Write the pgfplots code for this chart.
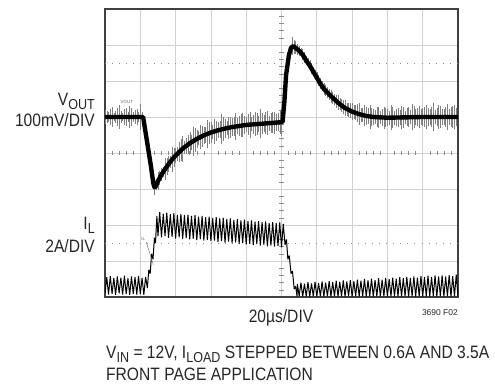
\documentclass[border=0pt]{standalone}
\usepackage{fontspec}
\setmainfont{Liberation Sans}[FakeStretch=0.87]
\newfontfamily\plainsans{Liberation Sans}
\usepackage{pgfplots}
\pgfplotsset{compat=1.18}
\newcommand{\sub}[1]{\raisebox{-0.24em}{\fontsize{14.5}{15}\selectfont #1}}

\begin{document}
\begin{tikzpicture}[x=1bp,y=1bp, lbl/.style={inner sep=0pt, text=black!85, font=\fontsize{18}{20}\selectfont}]
\useasboundingbox (0,0) rectangle (495,383);
\begin{axis}[at={(105bp,86bp)}, anchor=south west, scale only axis,
  width=353bp, height=288bp, xmin=0, xmax=10, ymin=0, ymax=8,
  xtick={1,2,3,4,5,6,7,8,9}, ytick={1,2,3,4,5,6,7},
  xticklabels={}, yticklabels={}, major tick length=0pt,
  grid=major, grid style={black!18, line width=0.7pt},
  axis line style={black!75, line width=1.6pt}]

% dotted cursor lines
\addplot[black!45, line width=0.8pt, dash pattern=on 0.8pt off 6.26pt] coordinates {(0,6.5) (10,6.5)};
\addplot[black!45, line width=0.8pt, dash pattern=on 0.8pt off 6.26pt] coordinates {(0,1.5) (10,1.5)};

% tick marks on the centre lines
\addplot[draw=none, error bars/.cd, y dir=both, y fixed=0.06, error mark=none,
  error bar style={draw=black!45, line width=0.5pt}] coordinates {
(0.2,4)(0.4,4)(0.6,4)(0.8,4)(1.2,4)(1.4,4)(1.6,4)(1.8,4)(2.2,4)(2.4,4)(2.6,4)(2.8,4)
(3.2,4)(3.4,4)(3.6,4)(3.8,4)(4.2,4)(4.4,4)(4.6,4)(4.8,4)(5.2,4)(5.4,4)(5.6,4)(5.8,4)
(6.2,4)(6.4,4)(6.6,4)(6.8,4)(7.2,4)(7.4,4)(7.6,4)(7.8,4)(8.2,4)(8.4,4)(8.6,4)(8.8,4)
(9.2,4)(9.4,4)(9.6,4)(9.8,4)};
\addplot[draw=none, error bars/.cd, x dir=both, x fixed=0.06, error mark=none,
  error bar style={draw=black!45, line width=0.5pt}] coordinates {
(5,0.2)(5,0.4)(5,0.6)(5,0.8)(5,1.2)(5,1.4)(5,1.6)(5,1.8)(5,2.2)(5,2.4)(5,2.6)(5,2.8)
(5,3.2)(5,3.4)(5,3.6)(5,3.8)(5,4.2)(5,4.4)(5,4.6)(5,4.8)(5,5.2)(5,5.4)(5,5.6)(5,5.8)
(5,6.2)(5,6.4)(5,6.6)(5,6.8)(5,7.2)(5,7.4)(5,7.6)(5,7.8)};

% VOUT noise spikes
\addplot[draw=none, error bars/.cd, y dir=both, y explicit, error mark=none,
  error bar style={draw=black!50, line width=0.45pt}] table[x=x, y=y, y error=e] {
x y e
0.0 5.00 0.20
0.1 5.00 0.14
0.2 5.00 0.28
0.3 5.00 0.17
0.4 5.00 0.33
0.5 5.00 0.12
0.6 5.00 0.24
0.7 5.00 0.30
0.8 5.00 0.15
0.9 5.00 0.22
1.0 5.00 0.36
1.1 4.88 0.10
1.2 4.26 0.08
1.3 3.64 0.10
1.4 3.05 0.22
1.5 3.22 0.25
1.6 3.40 0.18
1.7 3.55 0.30
1.8 3.69 0.22
1.9 3.82 0.34
2.0 3.93 0.20
2.1 4.03 0.28
2.2 4.12 0.36
2.3 4.20 0.22
2.4 4.27 0.30
2.5 4.33 0.40
2.6 4.39 0.26
2.7 4.44 0.33
2.8 4.49 0.24
2.9 4.53 0.38
3.0 4.57 0.28
3.1 4.60 0.35
3.2 4.63 0.22
3.3 4.66 0.42
3.4 4.68 0.27
3.5 4.70 0.31
3.6 4.72 0.24
3.7 4.74 0.37
3.8 4.75 0.29
3.9 4.77 0.33
4.0 4.78 0.21
4.1 4.79 0.36
4.2 4.80 0.26
4.3 4.80 0.30
4.4 4.81 0.40
4.5 4.82 0.23
4.6 4.83 0.34
4.7 4.83 0.27
4.8 4.84 0.31
4.9 4.85 0.25
5.0 4.85 0.38
5.1 5.80 0.10
5.2 6.68 0.12
5.3 6.96 0.25
5.4 6.92 0.18
5.5 6.84 0.14
5.6 6.73 0.16
5.7 6.57 0.12
5.8 6.43 0.15
5.9 6.26 0.13
6.0 6.09 0.16
6.1 5.93 0.14
6.2 5.78 0.17
6.3 5.68 0.15
6.4 5.58 0.18
6.5 5.49 0.16
6.6 5.40 0.20
6.7 5.32 0.17
6.8 5.25 0.22
6.9 5.20 0.19
7.0 5.15 0.24
7.1 5.12 0.21
7.2 5.08 0.30
7.3 5.05 0.19
7.4 5.03 0.26
7.5 5.01 0.33
7.6 5.00 0.22
7.7 4.99 0.28
7.8 4.99 0.18
7.9 4.98 0.31
8.0 4.98 0.24
8.1 4.98 0.35
8.2 4.98 0.20
8.3 4.99 0.27
8.4 4.99 0.32
8.5 4.99 0.19
8.6 5.00 0.29
8.7 5.00 0.36
8.8 5.00 0.23
8.9 5.00 0.30
9.0 5.00 0.26
9.1 5.00 0.34
9.2 5.00 0.21
9.3 5.00 0.38
9.4 5.00 0.25
9.5 5.00 0.30
9.6 5.00 0.22
9.7 5.00 0.35
9.8 5.00 0.27
9.9 5.00 0.32
10.0 5.00 0.24
0.05 5.00 0.16
0.15 5.00 0.22
0.25 5.00 0.12
0.35 5.00 0.26
0.45 5.00 0.18
0.55 5.00 0.21
0.65 5.00 0.14
0.75 5.00 0.25
0.85 5.00 0.19
0.95 5.00 0.13
1.05 5.00 0.15
1.45 3.13 0.15
1.55 3.31 0.20
1.65 3.48 0.14
1.75 3.62 0.24
1.85 3.76 0.17
1.95 3.88 0.26
2.05 3.98 0.19
2.15 4.08 0.30
2.25 4.16 0.18
2.35 4.24 0.27
2.45 4.30 0.21
2.55 4.36 0.33
2.65 4.42 0.20
2.75 4.47 0.29
2.85 4.51 0.22
2.95 4.55 0.31
3.05 4.59 0.19
3.15 4.62 0.28
3.25 4.65 0.24
3.35 4.67 0.34
3.45 4.69 0.20
3.55 4.71 0.30
3.65 4.73 0.26
3.75 4.75 0.22
3.85 4.76 0.32
3.95 4.78 0.25
4.05 4.79 0.29
4.15 4.80 0.20
4.25 4.80 0.34
4.35 4.81 0.23
4.45 4.82 0.28
4.55 4.83 0.31
4.65 4.83 0.21
4.75 4.84 0.29
4.85 4.85 0.24
4.95 4.85 0.33
5.35 6.95 0.20
5.45 6.88 0.15
5.55 6.79 0.13
5.65 6.65 0.16
5.75 6.50 0.14
5.85 6.35 0.15
5.95 6.18 0.13
6.05 6.01 0.15
6.15 5.85 0.14
6.25 5.73 0.16
6.35 5.63 0.15
6.45 5.53 0.17
6.55 5.44 0.18
6.65 5.36 0.16
6.75 5.28 0.20
6.85 5.22 0.18
6.95 5.17 0.21
7.05 5.13 0.19
7.15 5.10 0.25
7.25 5.06 0.20
7.35 5.04 0.28
7.45 5.02 0.22
7.55 5.00 0.26
7.65 5.00 0.19
7.75 4.99 0.30
7.85 4.98 0.23
7.95 4.98 0.27
8.05 4.98 0.20
8.15 4.98 0.29
8.25 4.98 0.24
8.35 4.99 0.21
8.45 4.99 0.30
8.55 4.99 0.25
8.65 5.00 0.20
8.75 5.00 0.31
8.85 5.00 0.26
8.95 5.00 0.22
9.05 5.00 0.29
9.15 5.00 0.24
9.25 5.00 0.27
9.35 5.00 0.20
9.45 5.00 0.33
9.55 5.00 0.23
9.65 5.00 0.28
9.75 5.00 0.21
9.85 5.00 0.30
9.95 5.00 0.25
};

% VOUT main trace
\addplot[black, line width=4.4pt, line join=round] coordinates {
(0,5.0) (1.08,5.0) (1.2,4.26) (1.3,3.64) (1.37,3.15) (1.40,3.05) (1.43,3.06)
(1.5,3.22) (1.6,3.40) (1.7,3.55) (1.8,3.69) (1.9,3.82) (2.0,3.93) (2.2,4.12)
(2.4,4.27) (2.6,4.39) (2.8,4.49) (3.0,4.57) (3.2,4.63) (3.4,4.68) (3.6,4.72)
(3.8,4.75) (4.0,4.78) (4.4,4.81) (4.8,4.84) (5.03,4.86) (5.08,5.4) (5.13,6.17)
(5.21,6.72) (5.27,6.92) (5.33,6.97) (5.4,6.92) (5.5,6.84) (5.6,6.73) (5.7,6.57)
(5.8,6.43) (5.9,6.26) (6.0,6.09) (6.1,5.93) (6.2,5.78) (6.3,5.68) (6.4,5.58)
(6.5,5.49) (6.6,5.40) (6.7,5.32) (6.8,5.25) (6.9,5.20) (7.0,5.15) (7.2,5.08)
(7.4,5.03) (7.6,5.0) (8.0,4.98) (8.5,4.99) (9,5.0) (10,5.0)};

% IL trace
\addplot[black, line width=1.0pt, line join=miter, miter limit=2] table {
0.00 0.10
0.05 0.55
0.10 0.07
0.15 0.58
0.20 0.09
0.25 0.53
0.30 0.06
0.35 0.57
0.40 0.10
0.45 0.54
0.50 0.07
0.55 0.59
0.60 0.08
0.65 0.52
0.70 0.06
0.75 0.57
0.80 0.09
0.85 0.55
0.90 0.07
0.95 0.58
1.00 0.08
1.05 0.53
1.10 0.06
1.15 0.56
1.20 0.25
1.24 0.75
1.28 0.65
1.32 1.20
1.36 1.05
1.40 1.65
1.43 1.50
1.47 2.25
1.50 1.69
1.55 2.36
1.60 1.66
1.65 2.31
1.70 1.70
1.75 2.34
1.80 1.64
1.85 2.30
1.90 1.67
1.95 2.33
2.00 1.62
2.05 2.28
2.10 1.66
2.15 2.31
2.20 1.61
2.25 2.27
2.30 1.64
2.35 2.29
2.40 1.60
2.45 2.25
2.50 1.62
2.55 2.27
2.60 1.58
2.65 2.23
2.70 1.61
2.75 2.25
2.80 1.57
2.85 2.22
2.90 1.59
2.95 2.23
3.00 1.55
3.05 2.20
3.10 1.57
3.15 2.22
3.20 1.53
3.25 2.18
3.30 1.55
3.35 2.20
3.40 1.51
3.45 2.16
3.50 1.54
3.55 2.18
3.60 1.50
3.65 2.14
3.70 1.52
3.75 2.16
3.80 1.48
3.85 2.13
3.90 1.50
3.95 2.15
4.00 1.46
4.05 2.11
4.10 1.48
4.15 2.13
4.20 1.44
4.25 2.09
4.30 1.47
4.35 2.11
4.40 1.43
4.45 2.08
4.50 1.45
4.55 2.10
4.60 1.41
4.65 2.06
4.70 1.43
4.75 2.08
4.80 1.40
4.85 2.05
4.90 1.42
4.95 2.07
5.00 1.38
5.05 2.03
5.10 1.45
5.14 1.60
5.18 1.05
5.22 1.15
5.27 0.65
5.31 0.72
5.36 0.22
5.40 0.30
5.44 0.02
5.45 0.36
5.50 0.02
5.55 0.40
5.60 0.01
5.65 0.37
5.70 0.02
5.75 0.41
5.80 0.01
5.85 0.38
5.90 0.02
5.95 0.42
6.00 0.01
6.05 0.39
6.10 0.02
6.15 0.43
6.20 0.01
6.25 0.40
6.30 0.02
6.35 0.44
6.40 0.01
6.45 0.41
6.50 0.02
6.55 0.45
6.60 0.01
6.65 0.42
6.70 0.02
6.75 0.46
6.80 0.01
6.85 0.43
6.90 0.02
6.95 0.47
7.00 0.01
7.05 0.44
7.10 0.02
7.15 0.48
7.20 0.01
7.25 0.45
7.30 0.02
7.35 0.50
7.40 0.01
7.45 0.46
7.50 0.02
7.55 0.51
7.60 0.01
7.65 0.47
7.70 0.02
7.75 0.52
7.80 0.01
7.85 0.48
7.90 0.02
7.95 0.53
8.00 0.01
8.05 0.50
8.10 0.02
8.15 0.54
8.20 0.01
8.25 0.51
8.30 0.02
8.35 0.55
8.40 0.01
8.45 0.52
8.50 0.02
8.55 0.56
8.60 0.01
8.65 0.53
8.70 0.02
8.75 0.57
8.80 0.01
8.85 0.54
8.90 0.02
8.95 0.58
9.00 0.01
9.05 0.55
9.10 0.02
9.15 0.59
9.20 0.01
9.25 0.56
9.30 0.02
9.35 0.60
9.40 0.01
9.45 0.57
9.50 0.02
9.55 0.60
9.60 0.01
9.65 0.57
9.70 0.02
9.75 0.61
9.80 0.01
9.85 0.58
9.90 0.02
9.95 0.62
10.00 0.01
};

% scope channel labels
\addplot[black!60, line width=0.4pt] coordinates {(1.17,1.52) (1.37,0.90)};
\node[inner sep=0pt, text=black!60, font=\plainsans\fontsize{4.5}{5}\selectfont] at (axis cs:1.08,1.62) {IL};
\node[inner sep=0pt, text=black!60, font=\plainsans\fontsize{4.5}{5}\selectfont] at (axis cs:0.62,5.42) {VOUT};
\end{axis}

\node[lbl, anchor=base east] at (95,278) {V\sub{OUT}};
\node[lbl, anchor=base east] at (95,257) {100mV/DIV};
\node[lbl, anchor=base east] at (95,154) {I\sub{L}};
\node[lbl, anchor=base east] at (95,131) {2A/DIV};
\node[lbl, anchor=base] at (281,61) {20µs/DIV};
\node[inner sep=0pt, text=black!85, anchor=base east, font=\plainsans\fontsize{8.5}{9}\selectfont] at (458,68) {3690 F02};
\node[lbl, anchor=base west] at (106,25) {V\sub{IN} = 12V, I\sub{LOAD} STEPPED BETWEEN 0.6A AND 3.5A};
\node[lbl, anchor=base west] at (106,3) {FRONT PAGE APPLICATION};
\end{tikzpicture}
\end{document}
